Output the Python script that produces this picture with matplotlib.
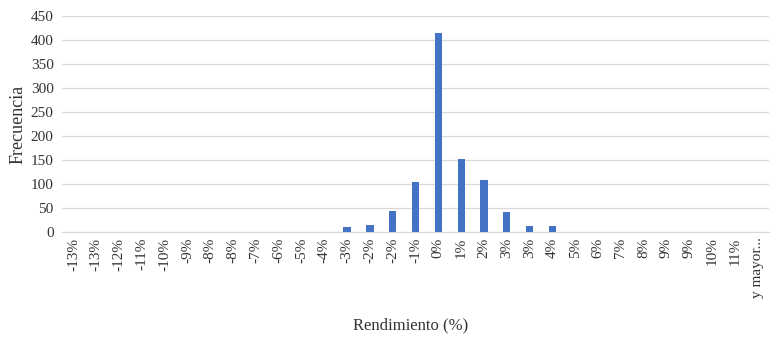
import matplotlib.pyplot as plt

# Histogram bins (labels as shown) and frequencies
categorias = ['-13%', '-13%', '-12%', '-11%', '-10%', '-9%', '-8%', '-8%', '-7%', '-6%',
              '-5%', '-4%', '-3%', '-2%', '-2%', '-1%', '0%', '1%', '2%', '3%',
              '3%', '4%', '5%', '6%', '7%', '8%', '9%', '9%', '10%', '11%', 'y mayor...']
frecuencia = [1, 0, 0, 1, 0, 1, 1, 1, 0, 1,
              0, 0, 10, 15, 44, 105, 415, 153, 108, 41,
              12, 12, 1, 1, 0, 1, 0, 0, 0, 1, 1]

plt.rcParams['font.family'] = ['Liberation Serif', 'DejaVu Serif']

fig = plt.figure(figsize=(7.8, 3.43), dpi=100)
ax = fig.add_axes([0.0795, 0.3236, 0.9065, 0.6294])

x = list(range(len(categorias)))
ax.bar(x, frecuencia, width=0.32, color='#4472C4', zorder=3)

ax.set_xlim(-0.5, len(categorias) - 0.5)
ax.set_ylim(0, 450)
ax.set_yticks(range(0, 451, 50))
ax.set_xticks(x)
ax.set_xticklabels(categorias, rotation=90, fontsize=11, color='#333333')
ax.tick_params(axis='y', labelsize=11, colors='#333333', length=0, pad=6)
ax.tick_params(axis='x', length=0, pad=4)

ax.grid(axis='y', color='#d9d9d9', linewidth=0.9, zorder=0)
for s in ['top', 'right', 'left']:
    ax.spines[s].set_visible(False)
ax.spines['bottom'].set_color('#d9d9d9')

ax.set_ylabel('Frecuencia', fontsize=13, color='#333333', labelpad=3)
fig.text(0.526, 0.052, 'Rendimiento (%)', ha='center', va='center', fontsize=12, color='#333333')

plt.savefig('out.png', dpi=100)
